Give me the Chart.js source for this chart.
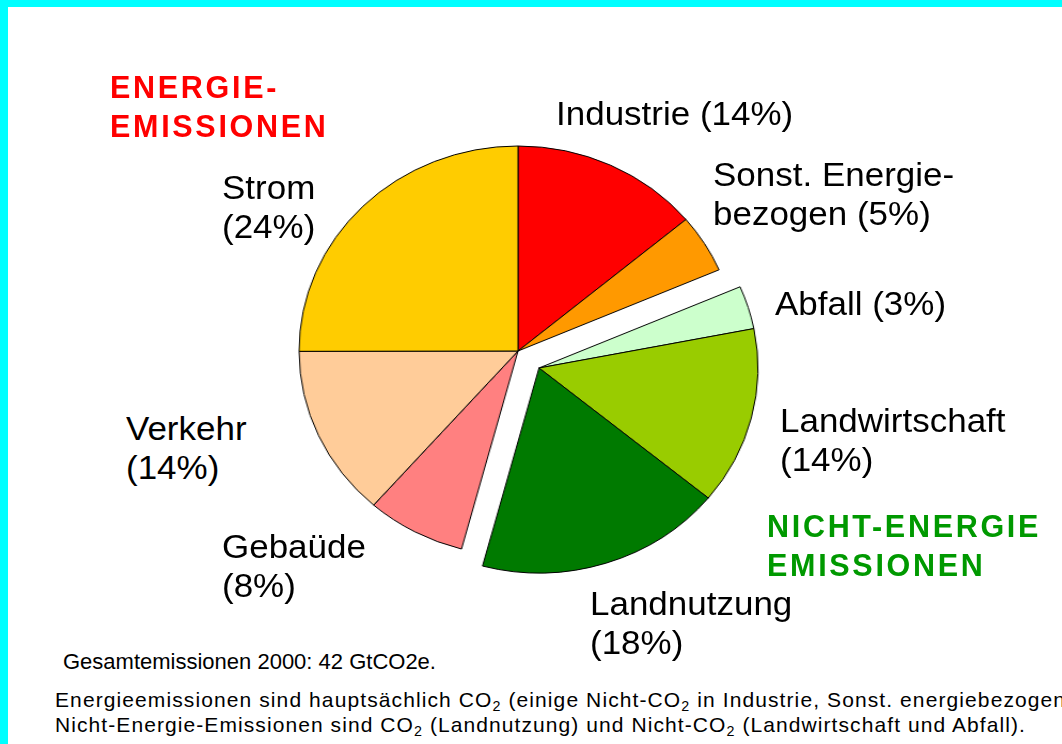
<!DOCTYPE html>
<html lang="de">
<head>
<meta charset="utf-8">
<title>Emissionen nach Sektoren</title>
<script src="https://cdn.jsdelivr.net/npm/chart.js@4.4.0/dist/chart.umd.min.js"></script>
<style>
  html, body { margin: 0; padding: 0; }
  body {
    width: 1062px; height: 744px; overflow: hidden; position: relative; background: #fff;
    font-family: "Liberation Sans", Arial, Helvetica, sans-serif;
  }
  #frame {
    position: absolute; left: 0; top: 0; width: 1062px; height: 744px; box-sizing: border-box;
    border-top: 7px solid #00ffff; border-left: 8px solid #00ffff;
  }
  /* Kreis ist im Original leicht in die Breite gezogen */
  #pie-wrap {
    position: absolute; left: 251px; top: 101px; width: 500px; height: 500px;
    transform: scaleX(1.068); transform-origin: 0 0;
  }
  .lbl {
    position: absolute; font-size: 33px; line-height: 39px; color: #000; white-space: nowrap;
    transform: scaleX(1.06); transform-origin: 0 0;
  }
  .head { position: absolute; font-size: 30.5px; line-height: 39px; font-weight: bold; letter-spacing: 2.7px; white-space: nowrap; }
  .note { position: absolute; left: 55px; white-space: nowrap; color: #000; font-size: 21px; line-height: 25px; }
  .note sub { font-size: 0.68em; vertical-align: -0.3em; line-height: 0; }
</style>
</head>
<body>
<div id="frame"></div>
<div id="pie-wrap"><canvas id="pie" width="500" height="500"></canvas></div>

<div class="head" style="left:110px; top:68px; color:#ff0000;">ENERGIE-<br>EMISSIONEN</div>
<div class="head" style="left:767px; top:507px; color:#009900;">NICHT-ENERGIE<br>EMISSIONEN</div>

<div class="note" style="left:63px; top:649px; font-size:22px; line-height:26px;">Gesamtemissionen 2000: 42 GtCO2e.</div>
<div class="note" style="top:687px; letter-spacing:1.1px;">Energieemissionen sind hauptsächlich CO<sub>2</sub> (einige Nicht-CO<sub>2</sub> in Industrie, Sonst. energiebezogen)</div>
<div class="note" style="top:712px; letter-spacing:1.08px;">Nicht-Energie-Emissionen sind CO<sub>2</sub> (Landnutzung) und Nicht-CO<sub>2</sub> (Landwirtschaft und Abfall).</div>

<script>
// Sektoren, im Uhrzeigersinn ab 12 Uhr
const categories = ['Industrie', 'Sonst. Energiebezogen', 'Abfall', 'Landwirtschaft', 'Landnutzung', 'Gebaüde', 'Verkehr', 'Strom'];
// Prozentangaben wie beschriftet
const labelPercents = [14, 5, 3, 14, 18, 8, 14, 24];
// Anteile wie die Kreissegmente tatsaechlich gezeichnet sind
const sliceShares = [13.9, 4.6, 3.4, 14.0, 18.2, 7.3, 13.5, 25.0];
// diese Segmente sind herausgezogen
const nonEnergy = ['Abfall', 'Landwirtschaft', 'Landnutzung'];

const sliceColors = ['#ff0000', '#ff9900', '#ccffcc', '#99cc00', '#007a00', '#ff8080', '#ffcc99', '#ffcc00'];

// Position der Beschriftung (linke Kante, Oberkante der ersten Zeile) und Umbruch
const labelLayout = [
    { left: 556, top: 94, wrap: 'one' },
    { left: 713, top: 155, wrap: 'sonst' },
    { left: 775, top: 284, wrap: 'one' },
    { left: 780, top: 401, wrap: 'two' },
    { left: 590, top: 584, wrap: 'two' },
    { left: 222, top: 527, wrap: 'two' },
    { left: 126, top: 409, wrap: 'two' },
    { left: 222, top: 168, wrap: 'two' }
];

const PIE_RADIUS = 205;
const EXPLODE = 26;

categories.forEach(function (name, i) {
    const pos = labelLayout[i];
    const pct = '(' + labelPercents[i] + '%)';
    let html;
    if (pos.wrap === 'one') html = name + ' ' + pct;
    else if (pos.wrap === 'sonst') html = 'Sonst. Energie-<br>bezogen ' + pct;
    else html = name + '<br>' + pct;
    const div = document.createElement('div');
    div.className = 'lbl';
    div.style.left = pos.left + 'px';
    div.style.top = pos.top + 'px';
    div.innerHTML = html;
    document.body.appendChild(div);
});

// schiebt die Nicht-Energie-Segmente gemeinsam nach aussen
const explodePlugin = {
    id: 'explodeGroup',
    afterDatasetsUpdate(chart) {
        const arcs = chart.getDatasetMeta(0).data;
        const idx = [];
        categories.forEach((c, i) => { if (nonEnergy.includes(c)) idx.push(i); });
        const mid = (arcs[idx[0]].startAngle + arcs[idx[idx.length - 1]].endAngle) / 2;
        idx.forEach(i => {
            arcs[i].x += Math.cos(mid) * EXPLODE;
            arcs[i].y += Math.sin(mid) * EXPLODE;
        });
    }
};

new Chart(document.getElementById('pie'), {
    type: 'pie',
    data: {
        labels: categories,
        datasets: [{
            data: sliceShares,
            backgroundColor: sliceColors,
            borderColor: '#000000',
            borderWidth: 1,
            radius: PIE_RADIUS
        }]
    },
    options: {
        responsive: false,
        animation: false,
        events: [],
        radius: PIE_RADIUS,
        layout: { padding: 0 },
        plugins: {
            legend: { display: false },
            tooltip: { enabled: false }
        }
    },
    plugins: [explodePlugin]
});
</script>
</body>
</html>
